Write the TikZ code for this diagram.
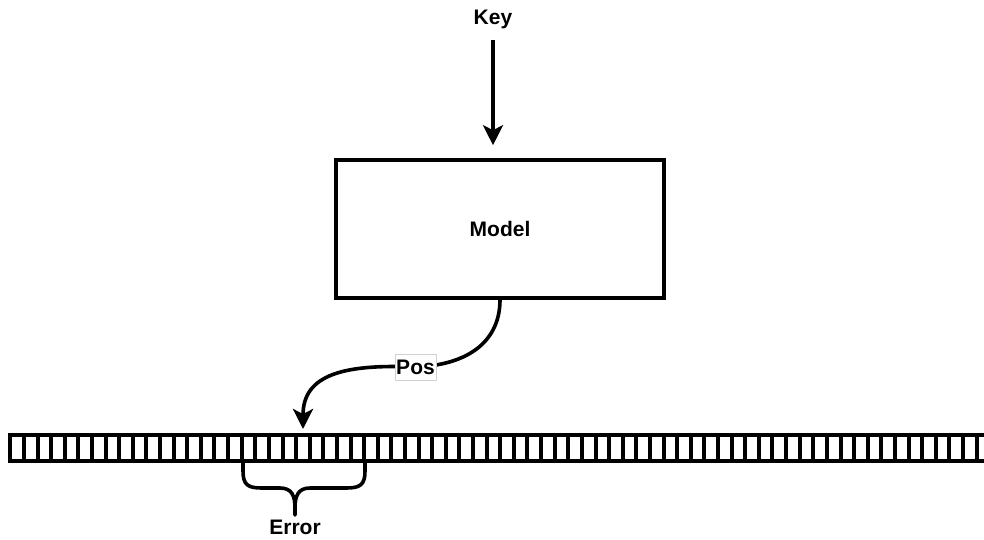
\documentclass[tikz,border=0pt]{standalone}
\usepackage{fontspec}
\setmainfont{Liberation Sans}
\usetikzlibrary{arrows.meta}

\tikzset{
  lbl/.style={font=\fontsize{21}{25}\selectfont\bfseries, inner sep=0pt},
  box/.style={draw, line width=3.6pt, minimum width=328pt, minimum height=138pt,
              font=\fontsize{21}{25}\selectfont\bfseries},
  conn/.style={line width=3.6pt, -{Stealth[length=20pt, width=20pt, inset=5pt]}},
  tag/.style={lbl, fill=white, draw=black!18, line width=0.6pt,
              minimum width=41pt, minimum height=26pt},
  tape/.style={line width=4pt},
  brace/.style={line width=3.6pt, line cap=round, line join=round}
}

\begin{document}
\begin{tikzpicture}[x=1pt, y=-1pt]
  \useasboundingbox (0,0) rectangle (984,539);
  \fill[white] (0,0) rectangle (984,539);

  % key input and model block
  \node[lbl] (key) at (493,19.5) {Key};
  \node[box] (model) at (500,229) {Model};
  \draw[conn] ([yshift=-20.5pt]key.center) -- ([yshift=13pt]model.north -| key.center);

  % memory tape, running off the right edge
  \begin{scope}
    \clip (0,0) rectangle (984,539);
    \draw[tape] (10.3,434.7) rectangle (1000,461.3);
    \foreach \k in {1,...,72}
      \draw[tape] ({10.3+13.61*\k},434.7) -- ({10.3+13.61*\k},461.3);
  \end{scope}

  % predicted position
  \coordinate (hit) at (303,429);
  \node[tag] (pos) at (415.5,367) {Pos};
  \draw[conn] (model.south) .. controls (500,340) and (470,365) .. (pos.center)
              .. controls (345,364) and (303,374) .. (hit);
  \node[tag] at (pos) {Pos};

  % error range under the tape
  \node[lbl] (err) at (295,527) {Error};
  \draw[brace] (243,463) -- (243,471) .. controls (243,485) and (248,488) .. (262,488)
               -- (280,488) .. controls (292,488) and (295,496) .. (295,508)
               -- (295,515);
  \draw[brace] (295,508) .. controls (295,496) and (298,488) .. (310,488)
               -- (346,488) .. controls (360,488) and (365,485) .. (365,471)
               -- (365,463);
\end{tikzpicture}
\end{document}
